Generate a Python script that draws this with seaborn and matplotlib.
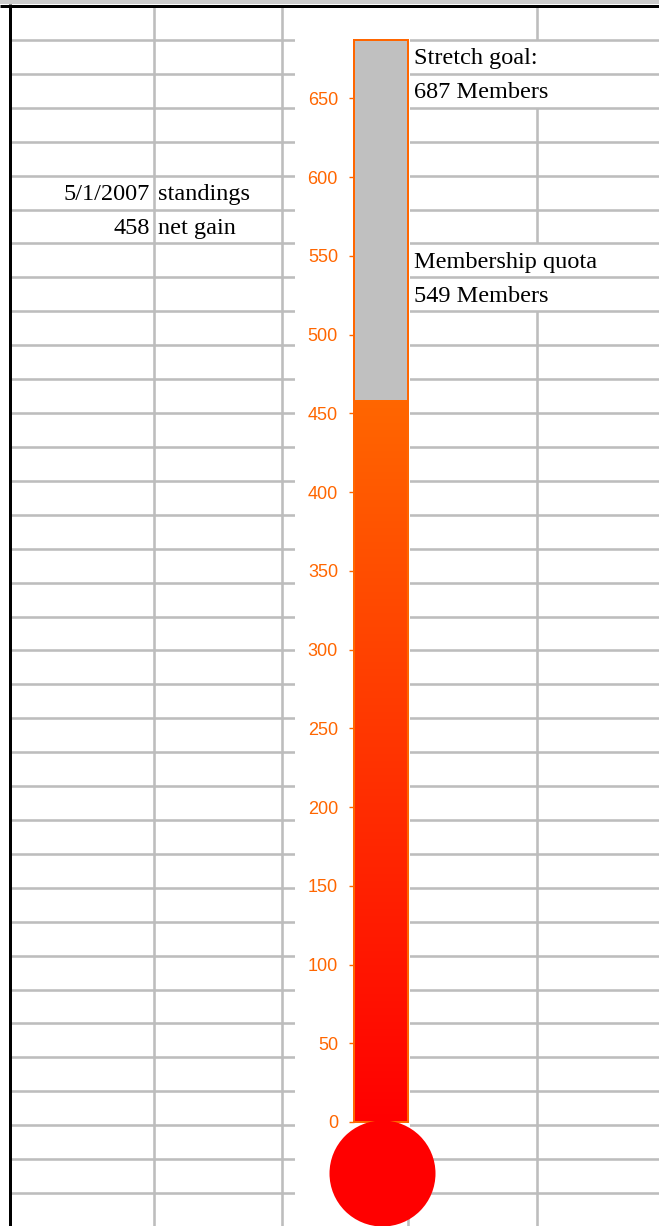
import numpy as np
import pandas as pd
import matplotlib.pyplot as plt
import matplotlib.transforms as mtransforms
from matplotlib.colors import LinearSegmentedColormap
from matplotlib.patches import Rectangle
import seaborn as sns

# data
as_of = "5/1/2007"
net_gain = 458
quota = 549
stretch_goal = 687
tick_values = list(range(0, 651, 50))

# colours
ORANGE = "#FF6600"
RED = "#FF0000"
GRAY = "#C0C0C0"
GRID = "#BDBDBD"

W, H, DPI = 659, 1226, 100
PX = 72 / DPI  # points per pixel

sns.set_theme(style="white")
plt.rcParams['font.family'] = ['Liberation Sans', 'DejaVu Sans']

fig = plt.figure(figsize=(W / DPI, H / DPI), dpi=DPI)
fig.patch.set_facecolor("white")

# --- spreadsheet background (pixel coordinates) ---
sheet = fig.add_axes([0, 0, 1, 1])
sheet.set_xlim(0, W)
sheet.set_ylim(H, 0)
sheet.axis("off")

rows = np.linspace(40, 1193, 35)
sheet.hlines(rows, 10, W, color=GRID, lw=2.6 * PX, zorder=1)
sheet.vlines([153.5, 281.5, 408], 7, H, color=GRID, lw=2.6 * PX, zorder=1)
# column 537 is hidden behind overflowing cell text
for y0, y1 in [(7, rows[0]), (rows[2], rows[6]), (rows[8], H)]:
    sheet.vlines(536.5, y0, y1, color=GRID, lw=2.6 * PX, zorder=1)

# chart area
sheet.add_patch(Rectangle((295, 7), 115, 1211, facecolor="white", edgecolor="none", zorder=2))

# header band and frame
sheet.add_patch(Rectangle((0, 0), W, 4, facecolor="#CCCCCC", edgecolor="none", zorder=3))
sheet.hlines(5.5, 0, W, color="black", lw=3 * PX, zorder=4)
sheet.vlines(9.5, 4, H, color="black", lw=3 * PX, zorder=4)

cell_font = dict(family=["Liberation Serif", "DejaVu Serif"], fontsize=17.5, color="black",
                 va="baseline", zorder=5)


def cell_text(x, row, s, ha="left"):
    sheet.text(x, rows[row + 1] - 9.5, s, ha=ha, **cell_font)


cell_text(414, 0, "Stretch goal:")
cell_text(414, 1, f"{stretch_goal} Members")
cell_text(150, 4, as_of, ha="right")
cell_text(158, 4, "standings")
cell_text(150, 5, f"{net_gain}", ha="right")
cell_text(158, 5, "net gain")
cell_text(414, 6, "Membership quota")
cell_text(414, 7, f"{quota} Members")

# --- thermometer chart ---
y_zero, y_top = 1122, 40
ax = fig.add_axes([354 / W, (H - y_zero) / H, 54 / W, (y_zero - y_top) / H])
ax.set_facecolor("none")

sns.barplot(x=["members"], y=[stretch_goal], color=GRAY, saturation=1, width=1.0, ax=ax)
sns.barplot(x=["members"], y=[net_gain], color=ORANGE, saturation=1, width=1.0, ax=ax)
goal_bar, gain_bar = ax.patches[0], ax.patches[1]

for p in (goal_bar, gain_bar):
    p.set_edgecolor(ORANGE)
    p.set_linewidth(2 * PX)
    p.set_clip_on(False)
goal_bar.set_zorder(1)

# red -> orange gradient inside the filled part
cmap = LinearSegmentedColormap.from_list("therm", [RED, ORANGE])
grad = np.linspace(0, 1, 256).reshape(-1, 1)
bx, bw = gain_bar.get_x(), gain_bar.get_width()
im = ax.imshow(grad, cmap=cmap, origin="lower", aspect="auto",
               extent=(bx, bx + bw, 0, net_gain), zorder=2)
im.set_clip_path(gain_bar)
gain_bar.set_facecolor("none")
gain_bar.set_zorder(3)

# bulb under the tube
bulb_trans = mtransforms.offset_copy(ax.transData, fig=fig, x=1, y=-51, units="dots")
ax.plot([0], [0], "o", ms=106 * PX, color=RED, mec=RED, mew=0,
        transform=bulb_trans, clip_on=False, zorder=6)

ax.set_xlim(-0.5, 0.5)
ax.set_ylim(0, stretch_goal)
ax.set_xticks([])
ax.set_yticks(tick_values)
ax.tick_params(axis="y", left=True, length=5 * PX, width=1, color=ORANGE,
               labelcolor=ORANGE, labelsize=13, pad=11 * PX)
ax.set_xlabel("")
ax.set_ylabel("")
for s in ax.spines.values():
    s.set_visible(False)

fig.savefig("out.png", dpi=DPI)
